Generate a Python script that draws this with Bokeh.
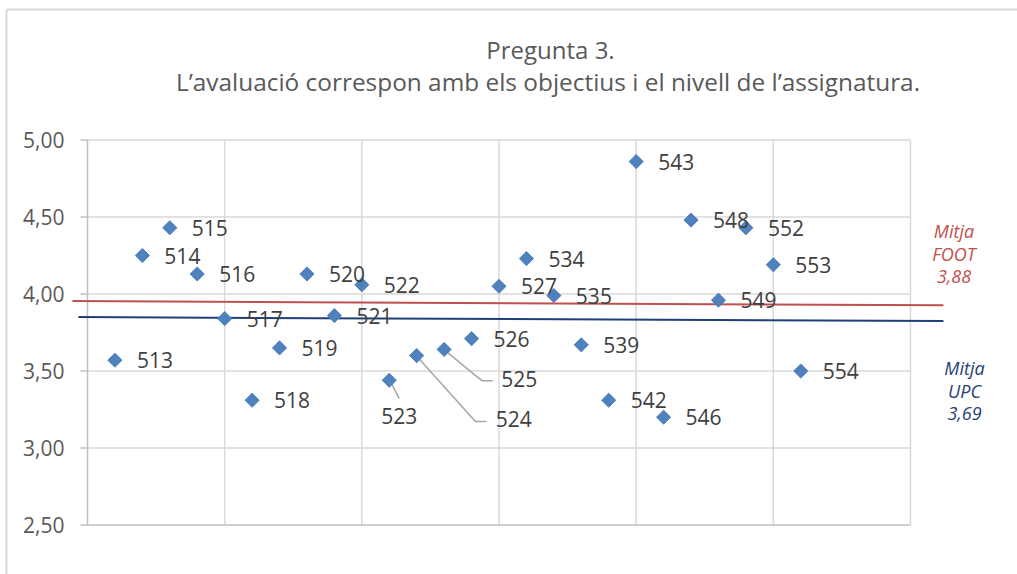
import numpy as np
from bokeh.plotting import figure
from bokeh.models import Range1d, ColumnDataSource
from bokeh.core.properties import value
from bokeh.embed import file_html
from bokeh.resources import INLINE

# ---------------- data ----------------
names = ["513", "514", "515", "516", "517", "518", "519", "520", "521", "522",
         "523", "524", "525", "526", "527", "534", "535", "539", "542", "543",
         "546", "548", "549", "552", "553", "554"]
positions = list(range(1, 27))
scores = [3.57, 4.25, 4.43, 4.13, 3.84, 3.31, 3.65, 4.13, 3.86, 4.06,
          3.44, 3.60, 3.64, 3.71, 4.05, 4.23, 3.99, 3.67, 3.31, 4.86,
          3.20, 4.48, 3.96, 4.43, 4.19, 3.50]

foot_x = [-0.55, 31.2]
foot_y = [3.954, 3.927]
upc_x = [-0.33, 31.2]
upc_y = [3.850, 3.825]

y_ticks = [2.5, 3.0, 3.5, 4.0, 4.5, 5.0]
y_tick_labels = ["2,50", "3,00", "3,50", "4,00", "4,50", "5,00"]
x_grid = [5, 10, 15, 20, 25, 30]
x_min, x_max = 0, 30
y_min, y_max = 2.5, 5.0

title_lines = ["Pregunta 3.",
               "L\u2019avaluació correspon amb els objectius i el nivell de l\u2019assignatura."]
foot_note = ["Mitja", "FOOT", "3,88"]
upc_note = ["Mitja", "UPC", "3,69"]

# ---------------- layout (pixels) ----------------
W, H = 1017, 574
PX_X = 27.433          # pixels per x unit
PX_Y = 154.0           # pixels per y unit
X0 = 87.0              # px of x = 0
Y5 = 139.5             # px of y = 5.0 (from top)

def px2x(X):
    return (X - X0) / PX_X

def px2y(Y):
    return 5.0 - (Y - Y5) / PX_Y

x_start = -X0 / PX_X
y_end = 5.0 + Y5 / PX_Y

p = figure(width=W, height=H, output_backend="svg", toolbar_location=None,
           x_range=Range1d(x_start, x_start + W / PX_X),
           y_range=Range1d(y_end - H / PX_Y, y_end),
           min_border=0, background_fill_color="white", border_fill_color="white")
p.axis.visible = False
p.grid.visible = False
p.outline_line_color = None

GRID = "#d9d9d9"
AXIS = "#bfbfbf"

# outer chart border (top / left)
p.segment(x0=[px2x(6)], y0=[px2y(9)], x1=[px2x(1017)], y1=[px2y(9)], line_color=GRID, line_width=2)
p.segment(x0=[px2x(6)], y0=[px2y(9)], x1=[px2x(6)], y1=[px2y(574)], line_color=GRID, line_width=2)

# grid
hy = [t for t in y_ticks if t != y_min]
p.segment(x0=[x_min] * len(hy), y0=hy, x1=[x_max] * len(hy), y1=hy, line_color=GRID, line_width=1.5)
p.segment(x0=x_grid, y0=[y_min] * len(x_grid), x1=x_grid, y1=[y_max] * len(x_grid),
          line_color=GRID, line_width=1.5)
# axes
p.segment(x0=[x_min], y0=[y_min], x1=[x_min], y1=[y_max], line_color=AXIS, line_width=1.5)
p.segment(x0=[x_min], y0=[y_min], x1=[x_max], y1=[y_min], line_color=AXIS, line_width=1.5)
tick_len = 7 / PX_X
p.segment(x0=[x_min - tick_len] * len(y_ticks), y0=y_ticks, x1=[x_min] * len(y_ticks), y1=y_ticks,
          line_color=AXIS, line_width=1.5)
p.text(x=[x_min] * len(y_ticks), y=y_ticks, text=y_tick_labels, x_offset=-23,
       text_align="right", text_baseline="middle", text_font=value("Open Sans"),
       text_font_size="21px", text_color="#595959")

# mean lines
p.line(foot_x, foot_y, line_color="#c0504d", line_width=2)
p.line(upc_x, upc_y, line_color="#1f3f77", line_width=2)

# labels: default offsets and custom (with leader lines)
custom = {"523": (-8, 35.7, [(1.4, 1.7), (10, 18.3)]),
          "524": (79, 63.7, [(1, 1.6), (58.7, 66), (69.7, 66)]),
          "525": (57, 29.4, [(1.3, 1.4), (38, 31.4), (48.6, 31.4)])}
dxs, dys, lxs, lys = [], [], [], []
for n, xv, yv in zip(names, positions, scores):
    if n in custom:
        dx, dy, pts = custom[n]
        lxs.append([xv + a / PX_X for a, b in pts])
        lys.append([yv - b / PX_Y for a, b in pts])
    else:
        dx, dy = 22, 0
    dxs.append(dx)
    dys.append(dy)
p.multi_line(xs=lxs, ys=lys, line_color="#a6a6a6", line_width=1.5)

src = ColumnDataSource(dict(x=positions, y=scores, name=names, dx=dxs, dy=dys))
p.scatter("x", "y", source=src, marker="square", size=10, angle=np.pi / 4,
          fill_color="#4f81bd", line_color="#4f81bd")
p.text("x", "y", text="name", source=src, x_offset="dx", y_offset="dy",
       text_align="left", text_baseline="middle", text_font=value("Open Sans"),
       text_font_size="21px", text_color="#404040")

# title
p.text(x=[px2x(550)], y=[px2y(49)], text=[title_lines[0]], text_align="center",
       text_baseline="alphabetic", text_font=value("Open Sans"), text_font_size="24px",
       text_color="#595959")
p.text(x=[px2x(547.5)], y=[px2y(81)], text=[title_lines[1]], text_align="center",
       text_baseline="alphabetic", text_font=value("Open Sans"), text_font_size="24.4px",
       text_color="#595959")

# mean notes
p.text(x=[px2x(953.5)] * 3, y=[px2y(v) for v in (230.7, 253, 276)], text=foot_note,
       text_align="center", text_baseline="alphabetic", text_font=value("Open Sans"),
       text_font_style="italic", text_font_size="18px", text_color="#c0504d")
p.text(x=[px2x(964)] * 3, y=[px2y(v) for v in (367.5, 390.5, 413)], text=upc_note,
       text_align="center", text_baseline="alphabetic", text_font=value("Open Sans"),
       text_font_style="italic", text_font_size="18px", text_color="#1f3f77")

open("out.html", "w").write(file_html(p, INLINE))
